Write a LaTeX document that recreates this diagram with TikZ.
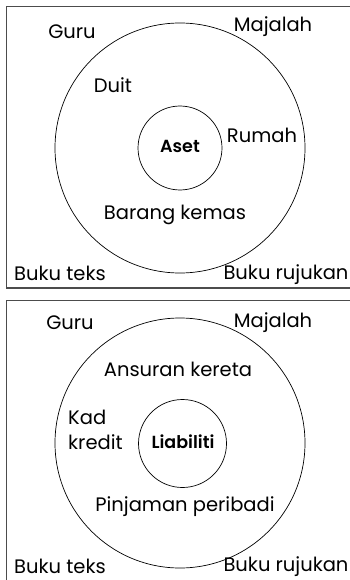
\documentclass[tikz,border=0pt]{standalone}
\usepackage{fontspec}
\setmainfont{Poppins}[BoldFont={Poppins SemiBold}]
\begin{document}
\begin{tikzpicture}[x=1pt,y=-1pt,
  frame/.style={draw=black!70,line width=1.1pt},
  ring/.style={draw=black,line width=0.7pt},
  lbl/.style={font=\fontsize{19.5}{23}\selectfont,inner sep=0pt},
  hub/.style={font=\fontsize{17.5}{20}\selectfont\bfseries,inner sep=0pt}]
\useasboundingbox (0,0) rectangle (349,580);
% top panel
\draw[frame] (350,6.5) -- (6.5,6.5) -- (6.5,288) -- (350,288);
\node[ring,circle,minimum size=250pt,inner sep=0pt] (outerA) at (180,148) {};
\node[ring,circle,minimum size=84pt,inner sep=0pt] (innerA) at (180,148) {};
\node[hub] (aset) at (180,146) {Aset};
\node[lbl] (guruA) at (72,32) {Guru};
\node[lbl] (majA) at (273,27) {Majalah};
\node[lbl] (duit) at (113,85) {Duit};
\node[lbl] (rumah) at (262,135) {Rumah};
\node[lbl] (barang) at (175,215) {Barang kemas};
\node[lbl] (bukuA) at (60,273) {Buku teks};
\node[lbl] (rujA) at (286,275) {Buku rujukan};
% bottom panel
\draw[frame] (350,300.5) -- (6.5,300.5) -- (6.5,581);
\node[ring,circle,minimum size=250pt,inner sep=0pt] (outerB) at (180,443) {};
\node[ring,circle,minimum size=88pt,inner sep=0pt] (innerB) at (182.5,443.5) {};
\node[hub] (liab) at (183,442) {Liabiliti};
\node[lbl] (guruB) at (70,323) {Guru};
\node[lbl] (majB) at (273,323) {Majalah};
\node[lbl] (ansuran) at (178,369) {Ansuran kereta};
\node[lbl,align=left,anchor=west,font=\fontsize{19.5}{25}\selectfont] (kad) at (68,430) {Kad\\kredit};
\node[lbl] (pinjaman) at (185,507) {Pinjaman peribadi};
\node[lbl] (bukuB) at (60,566) {Buku teks};
\node[lbl] (rujB) at (286,567) {Buku rujukan};
\end{tikzpicture}
\end{document}
